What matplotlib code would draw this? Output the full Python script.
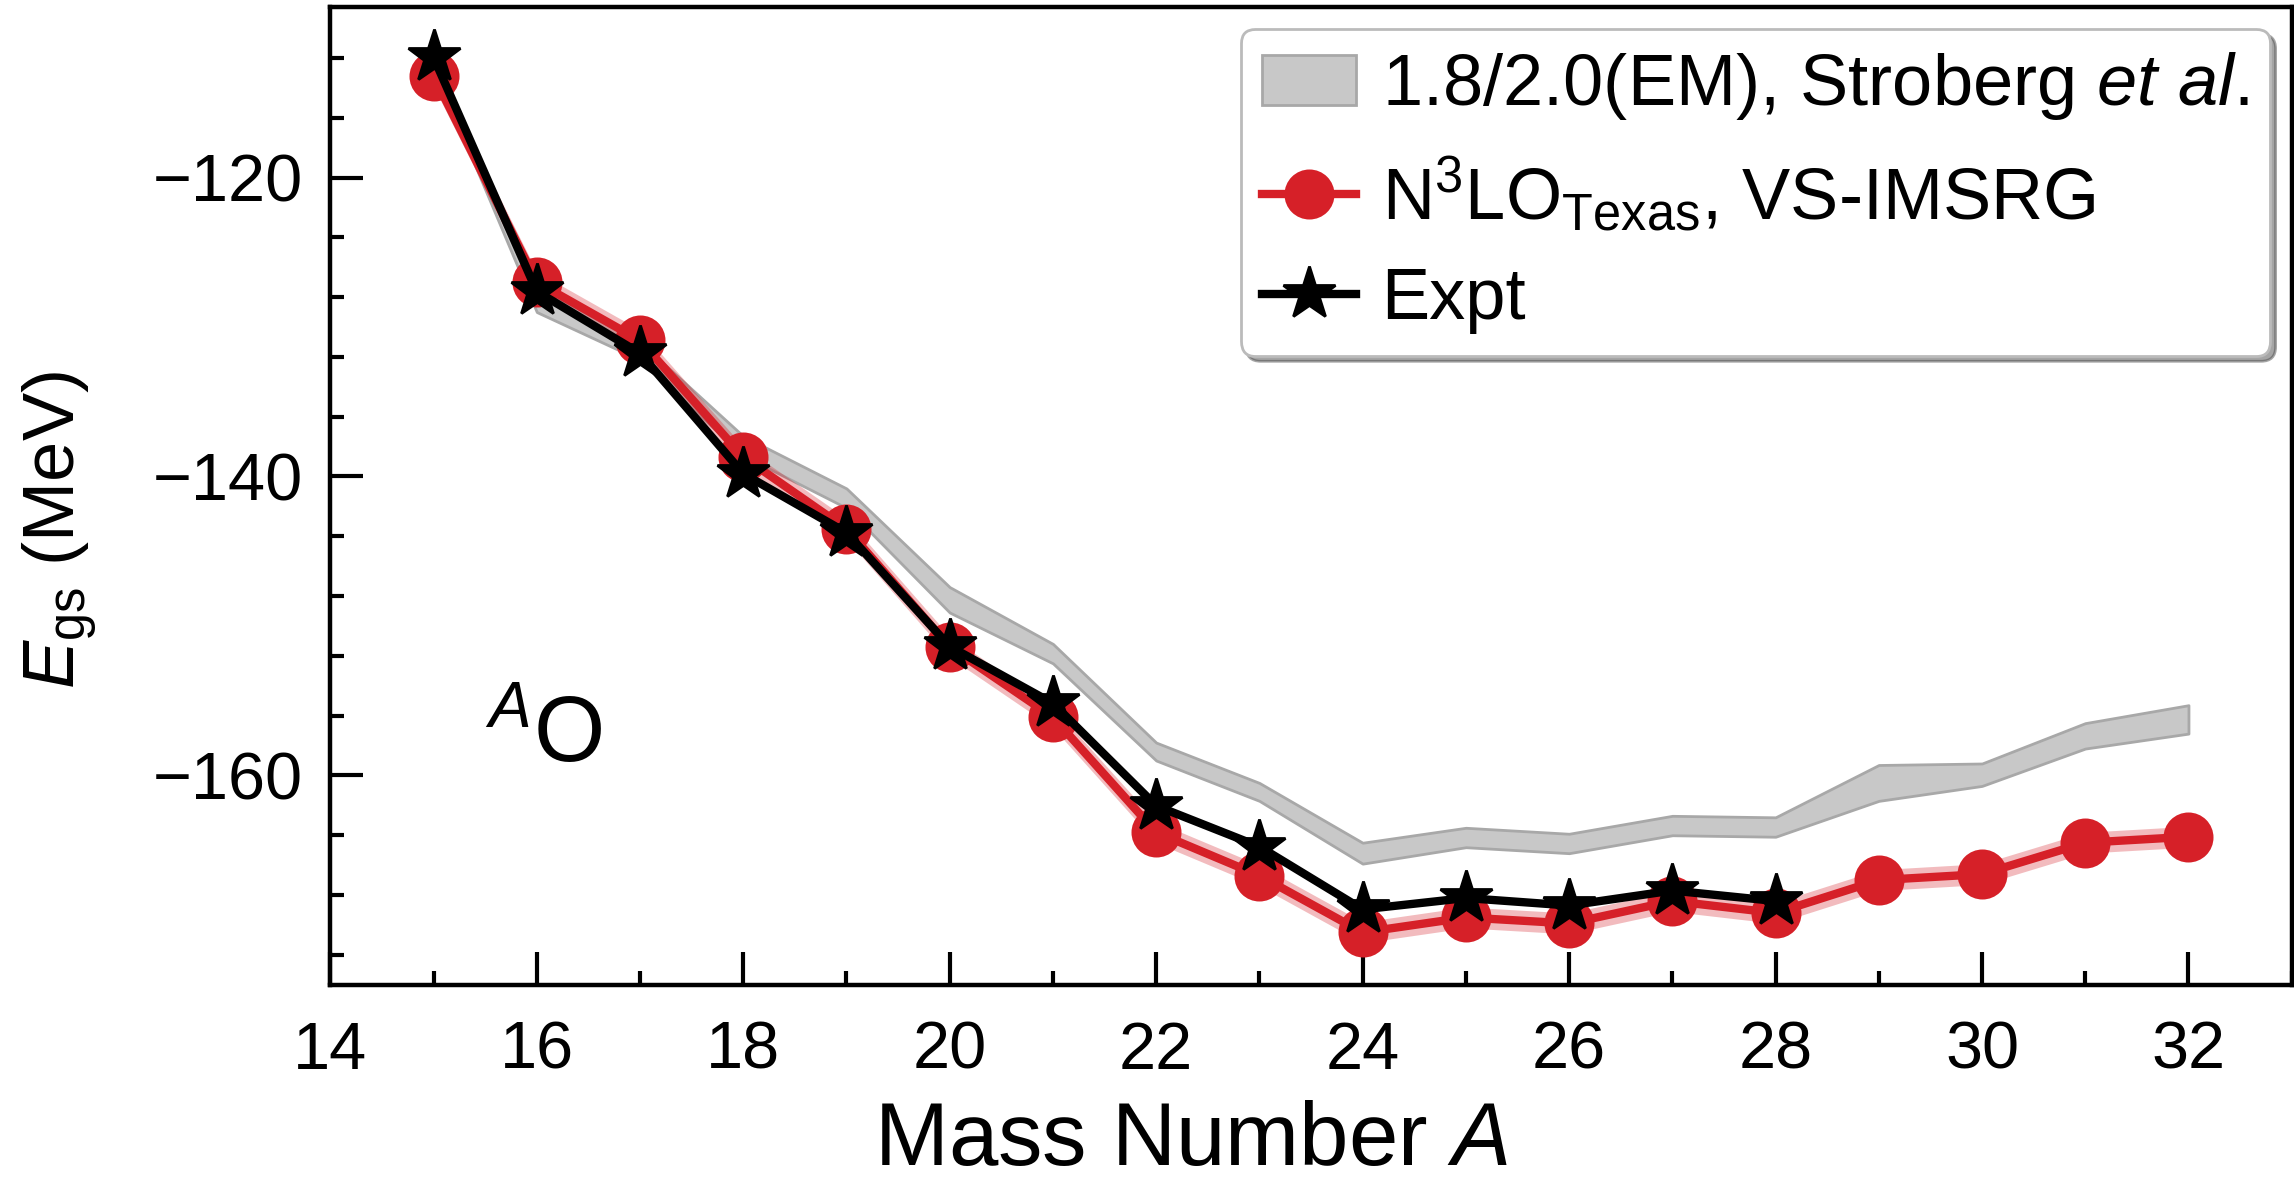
import matplotlib
matplotlib.use('Agg')
import matplotlib.pyplot as plt
from matplotlib.ticker import MultipleLocator

plt.rcParams['font.family'] = ['Liberation Sans', 'DejaVu Sans']
plt.rcParams['mathtext.fontset'] = 'custom'
plt.rcParams['mathtext.rm'] = 'Liberation Sans'
plt.rcParams['mathtext.it'] = 'Liberation Sans:italic'

# experiment (ground-state energies, MeV)
A_expt = [15, 16, 17, 18, 19, 20, 21, 22, 23, 24, 25, 26, 27, 28]
E_expt = [-111.96, -127.62, -131.76, -139.81, -143.76, -151.37, -155.18,
          -162.03, -164.76, -168.96, -168.2, -168.7, -167.7, -168.4]

# N3LO Texas, VS-IMSRG
A_n3lo = [15, 16, 17, 18, 19, 20, 21, 22, 23, 24, 25, 26, 27, 28, 29, 30, 31, 32]
E_n3lo = [-113.2, -127.0, -130.9, -138.7, -143.5, -151.4, -156.1, -163.8, -166.7,
          -170.5, -169.5, -169.9, -168.4, -169.2, -167.0, -166.6, -164.5, -164.1]
err_n3lo = [0.7, 0.7, 0.7, 0.7, 0.7, 0.7, 0.7, 0.7, 0.7,
            0.7, 0.7, 0.7, 0.7, 0.7, 0.7, 0.7, 0.7, 0.7]

# 1.8/2.0(EM) band, Stroberg et al.
A_em = [15, 16, 17, 18, 19, 20, 21, 22, 23, 24, 25, 26, 27, 28, 29, 30, 31, 32]
em_upper = [-112.0, -127.3, -131.0, -137.3, -140.8, -147.4, -151.2, -157.8, -160.5,
            -164.5, -163.5, -163.9, -162.7, -162.8, -159.3, -159.2, -156.5, -155.3]
em_lower = [-112.6, -129.0, -132.2, -138.6, -142.1, -149.1, -152.5, -159.0, -161.7,
            -165.9, -164.8, -165.2, -164.0, -164.1, -161.7, -160.7, -158.2, -157.2]

red = '#d62028'

fig, ax = plt.subplots(figsize=(11.47, 5.925), dpi=200)
fig.subplots_adjust(left=0.144, right=0.999, top=0.994, bottom=0.169)

ax.fill_between(A_em, em_lower, em_upper, facecolor='#c8c8c8', edgecolor='#a8a8a8',
                linewidth=1.0, zorder=1, label='1.8/2.0(EM), Stroberg $et$ $al$.')

n3lo_lo = [e - d for e, d in zip(E_n3lo, err_n3lo)]
n3lo_hi = [e + d for e, d in zip(E_n3lo, err_n3lo)]
ax.fill_between(A_n3lo, n3lo_lo, n3lo_hi, color=red, alpha=0.3, linewidth=0, zorder=2)
ax.plot(A_n3lo, E_n3lo, '-o', color=red, lw=3.0, markersize=17, zorder=3,
        label=r'N$^3$LO$_{\rm Texas}$, VS-IMSRG')
ax.plot(A_expt, E_expt, '-*', color='black', lw=3.0, markersize=20, zorder=4,
        label='Expt')

ax.set_xlim(14, 33)
ax.set_ylim(-174.0, -108.6)
ax.xaxis.set_major_locator(MultipleLocator(2))
ax.xaxis.set_minor_locator(MultipleLocator(1))
ax.yaxis.set_major_locator(MultipleLocator(20))
ax.yaxis.set_minor_locator(MultipleLocator(4))
ax.tick_params(which='both', direction='in', top=False, right=False, width=1.5,
               labelsize=24)
ax.tick_params(axis='x', pad=13)
ax.tick_params(axis='y', pad=10)
ax.tick_params(which='major', length=12)
ax.tick_params(which='minor', length=5)
for s in ax.spines.values():
    s.set_linewidth(1.6)

ax.set_xlabel('Mass Number $A$', fontsize=32)
ax.set_ylabel(r'$E_{\rm gs}$ (MeV)', fontsize=26)
ax.xaxis.set_label_coords(0.439, -0.118)
ax.yaxis.set_label_coords(-0.118, 0.465)

ax.text(15.5, -159.1, r'$^{A}$O', fontsize=33, va='baseline')

leg = ax.legend(loc='upper right', fontsize=26, fancybox=True, shadow=True,
                framealpha=1, edgecolor='#bbbbbb', borderaxespad=0.3,
                borderpad=0.3, handlelength=1.3, handletextpad=0.35,
                labelspacing=0.45)

fig.savefig('out.png', dpi=200)
